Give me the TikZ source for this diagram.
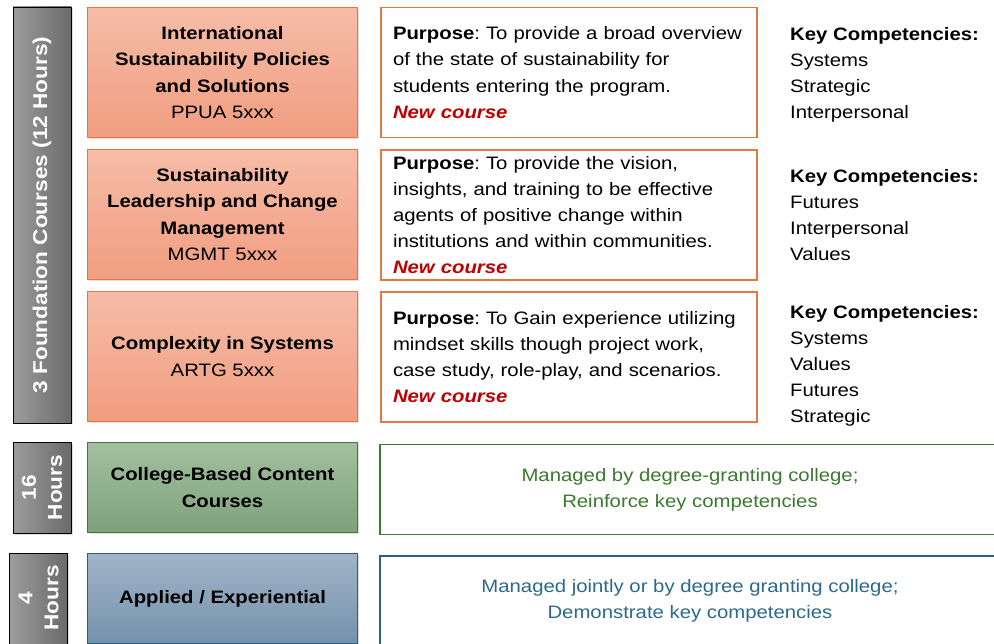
\documentclass[tikz,border=0pt]{standalone}
\usepackage{fontspec}
\setmainfont{Liberation Sans}[FakeStretch=1.13]
\usetikzlibrary{shadows}
\definecolor{orTop}{HTML}{F6BCA8}
\definecolor{orBot}{HTML}{F19D80}
\definecolor{orLine}{HTML}{E4783F}
\definecolor{grTop}{HTML}{A2C09F}
\definecolor{grBot}{HTML}{7EA27B}
\definecolor{grLine}{HTML}{3C7A37}
\definecolor{grText}{HTML}{3A7A2E}
\definecolor{blTop}{HTML}{A0B4C8}
\definecolor{blBot}{HTML}{7592AC}
\definecolor{blLine}{HTML}{2E5E7E}
\definecolor{blText}{HTML}{2B6A8C}
\definecolor{newRed}{HTML}{C00000}
\definecolor{gyL}{HTML}{9C9C9C}
\definecolor{gyR}{HTML}{6A6A6A}
\tikzset{
  shade/.style={drop shadow={shadow xshift=1.5pt,shadow yshift=-1.5pt,opacity=0.25}},
  coursebox/.style={draw=orLine, line width=1.1pt, top color=orTop, bottom color=orBot,
    minimum width=270pt, minimum height=130pt, align=center, inner sep=0pt,
    font=\fontsize{18}{26.5}\selectfont, shade},
  greenbox/.style={coursebox, draw=grLine, top color=grTop, bottom color=grBot, minimum height=90pt},
  bluebox/.style={coursebox, draw=blLine, top color=blTop, bottom color=blBot, minimum height=90pt},
  purposebox/.style={draw=orLine, line width=1.1pt, fill=white, minimum width=376pt,
    minimum height=130pt, align=left, text width=352pt, inner xsep=12pt, inner ysep=0pt,
    font=\fontsize{18}{26.2}\selectfont},
  infobox/.style={draw, line width=1.1pt, fill=white, minimum width=620pt, minimum height=90pt,
    align=center, font=\fontsize{18}{26}\selectfont},
  hourbar/.style={draw=black, line width=0.9pt, left color=gyL, right color=gyR, minimum width=58pt, shade},
  hourtext/.style={rotate=90, text=white, font=\bfseries\fontsize{20}{26}\selectfont, align=center},
  keytext/.style={anchor=north west, align=left, inner sep=0pt, font=\fontsize{18}{26}\selectfont}
}
\newcommand{\newcourse}{\textcolor{newRed}{\bfseries\itshape New course}}
\begin{document}
\frenchspacing
\begin{tikzpicture}[x=1pt,y=-1pt]
\useasboundingbox (0,0) rectangle (994,644);
\clip (0,0) rectangle (994,644);
% hour bars
\node[hourbar, minimum height=416pt] (bar1) at (42,215) {};
\node[hourtext] (bar1t) at (bar1.center) {3 Foundation Courses (12 Hours)};
\node[hourbar, minimum height=91pt] (bar2) at (42,487.5) {};
\node[hourtext] (bar2t) at (bar2.center) {16\\Hours};
\node[hourbar, minimum height=94pt] (bar3) at (38.5,600) {};
\node[hourtext] (bar3t) at (38.5,598) {4\\Hours};
% course boxes
\node[coursebox] (c1) at (222.5,72.5) {\bfseries International\\\bfseries Sustainability Policies\\\bfseries and Solutions\\PPUA 5xxx};
\node[coursebox] (c2) at (222.5,214.5) {\bfseries Sustainability\\\bfseries Leadership and Change\\\bfseries Management\\MGMT 5xxx};
\node[coursebox] (c3) at (222.5,356.5) {\bfseries Complexity in Systems\\ARTG 5xxx};
\node[greenbox] (c4) at (222.5,487.5) {\bfseries College-Based Content\\\bfseries Courses};
\node[bluebox] (c5) at (222.5,598.5) {\bfseries Applied / Experiential};
% purpose boxes
\node[purposebox] (p1) at (569,72.5) {\textbf{Purpose}: To provide a broad overview\\of the state of sustainability for\\students entering the program.\\\newcourse};
\node[purposebox] (p2) at (569,215) {\textbf{Purpose}: To provide the vision,\\insights, and training to be effective\\agents of positive change within\\institutions and within communities.\\\newcourse};
\node[purposebox] (p3) at (569,357) {\textbf{Purpose}: To Gain experience utilizing\\mindset skills though project work,\\case study, role-play, and scenarios.\\\newcourse};
% key competencies
\node[keytext] (k1) at (790,27) {\textbf{Key Competencies:}\\Systems\\Strategic\\Interpersonal};
\node[keytext] (k2) at (790,169) {\textbf{Key Competencies:}\\Futures\\Interpersonal\\Values};
\node[keytext] (k3) at (790,305) {\textbf{Key Competencies:}\\Systems\\Values\\Futures\\Strategic};
% info boxes
\node[infobox, draw=grLine, text=grText] (i1) at (690,489.5) {Managed by degree-granting college;\\Reinforce key competencies};
\node[infobox, draw=blLine, text=blText] (i2) at (690,601) {Managed jointly or by degree granting college;\\Demonstrate key competencies};
\end{tikzpicture}
\end{document}
